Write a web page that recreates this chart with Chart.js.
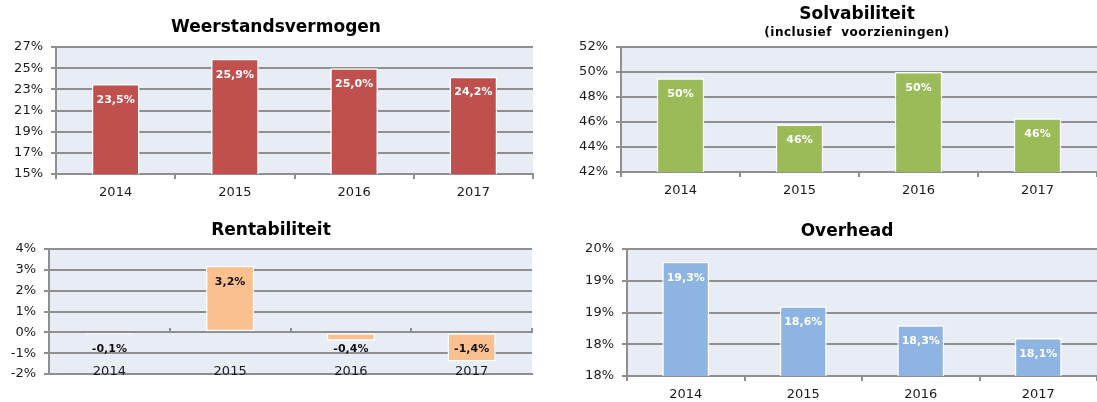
<!DOCTYPE html>
<html>
<head>
<meta charset="utf-8">
<script src="https://cdn.jsdelivr.net/npm/chart.js@4"></script>
<style>
  html, body { margin: 0; padding: 0; background: #fff; }
  body { width: 1097px; height: 402px; position: relative; overflow: hidden; }
  canvas { position: absolute; }
</style>
</head>
<body>
<canvas id="weerstand" width="545" height="200" style="left:0;top:0"></canvas>
<canvas id="solvab" width="547" height="200" style="left:550px;top:0"></canvas>
<canvas id="rentab" width="545" height="202" style="left:0;top:200px"></canvas>
<canvas id="overhead" width="547" height="202" style="left:550px;top:200px"></canvas>
<script>
const years = ["2014", "2015", "2016", "2017"];
const weerstandsvermogen = [23.5, 25.9, 25.0, 24.2];
const solvabiliteit = [49.5, 45.8, 50.0, 46.3];
const rentabiliteit = [-0.1, 3.2, -0.4, -1.4];
const overhead = [19.3, 18.6, 18.3, 18.1];

const GRID = "#8f8f8f";
const PLOT_BG = "#E8ECF4";

Chart.defaults.font.family = "'DejaVu Sans', Verdana, sans-serif";
Chart.defaults.color = "#1a1a1a";

function fmt(v, decimals) {
  return v.toFixed(decimals).replace(".", ",") + "%";
}

// light blue-grey plot area like the Excel original
const plotBg = {
  id: "plotBg",
  beforeDraw(chart) {
    const a = chart.chartArea;
    const ctx = chart.ctx;
    ctx.save();
    ctx.fillStyle = PLOT_BG;
    ctx.fillRect(a.left, a.top, a.right - a.left, a.bottom - a.top);
    ctx.restore();
  },
};

// titles are placed by hand, they are not centred on the canvas
const boxTitle = {
  id: "boxTitle",
  afterDraw(chart, args, opts) {
    const ctx = chart.ctx;
    ctx.save();
    ctx.fillStyle = "#000";
    ctx.textAlign = "center";
    ctx.textBaseline = "middle";
    ctx.font = "bold 17px 'DejaVu Sans'";
    ctx.fillText(opts.text, opts.x, opts.y);
    if (opts.sub) {
      ctx.font = "bold 12px 'DejaVu Sans'";
      ctx.letterSpacing = "0.5px";
      ctx.fillText(opts.sub, opts.x, opts.subY);
    }
    ctx.restore();
  },
};

// value labels just inside the end of each bar
const barLabels = {
  id: "barLabels",
  afterDatasetsDraw(chart, args, opts) {
    const ctx = chart.ctx;
    const values = chart.data.datasets[0].data;
    ctx.save();
    ctx.font = "bold 11px 'DejaVu Sans'";
    ctx.fillStyle = opts.color;
    ctx.textAlign = "center";
    ctx.textBaseline = "middle";
    chart.getDatasetMeta(0).data.forEach((bar, i) => {
      const v = values[i];
      const y = v >= 0 ? bar.y + 16 : Math.max(bar.y - 15, bar.base + 16);
      ctx.fillText(fmt(v, opts.decimals), bar.x, y);
    });
    ctx.restore();
  },
};

function makeChart(id, values, cfg) {
  const xAxis = {
    offset: true,
    grid: { offset: true, drawOnChartArea: false, color: GRID, lineWidth: 2, tickLength: 5 },
    border: { color: GRID, width: 2 },
    ticks: { font: { size: 13 }, padding: 6, maxRotation: 0 },
    afterFit: (s) => { s.height = cfg.xHeight; },
  };
  const scales = {
    x: xAxis,
    y: {
      min: cfg.min,
      max: cfg.max,
      grid: { color: GRID, lineWidth: 2, tickLength: 5 },
      border: { color: GRID, width: 2 },
      ticks: {
        stepSize: cfg.step,
        padding: 8,
        font: { size: 13 },
        callback: (v) => Math.round(v) + "%",
      },
      afterFit: (s) => { s.width = cfg.yWidth; },
    },
  };

  // Rentabiliteit: category labels sit low inside the plot, tick marks on the 0% line
  if (cfg.labelsLow) {
    xAxis.grid = { display: false };
    xAxis.ticks.mirror = true;
    xAxis.ticks.padding = -5;
    scales.x0 = {
      type: "category",
      axis: "x",
      position: { y: 0 },
      offset: true,
      ticks: { display: false },
      grid: { offset: true, drawOnChartArea: false, color: GRID, lineWidth: 2, tickLength: -5 },
      border: { color: GRID, width: 2 },
    };
  }

  return new Chart(document.getElementById(id), {
    type: "bar",
    data: {
      labels: years,
      datasets: [
        {
          data: values,
          backgroundColor: cfg.color,
          borderColor: "#fff",
          borderWidth: 1.5,
          borderSkipped: false,
          barPercentage: 0.4,
          categoryPercentage: 1,
        },
      ],
    },
    options: {
      responsive: false,
      animation: false,
      layout: { padding: { top: cfg.top, right: cfg.right, left: 0, bottom: 0 } },
      plugins: {
        legend: { display: false },
        tooltip: { enabled: false },
        boxTitle: cfg.title,
        barLabels: { color: cfg.labelColor, decimals: cfg.decimals },
      },
      scales: scales,
    },
    plugins: [plotBg, boxTitle, barLabels],
  });
}

makeChart("weerstand", weerstandsvermogen, {
  color: "#C0504D", labelColor: "#fff", decimals: 1,
  min: 15, max: 27, step: 2,
  top: 47, right: 12, yWidth: 56, xHeight: 26,
  title: { text: "Weerstandsvermogen", x: 276, y: 28 },
});

makeChart("solvab", solvabiliteit, {
  color: "#9BBB59", labelColor: "#fff", decimals: 0,
  min: 42, max: 52, step: 2,
  top: 47, right: 0, yWidth: 71, xHeight: 28,
  title: { text: "Solvabiliteit", x: 307, y: 15, sub: "(inclusief  voorzieningen)", subY: 33 },
});

makeChart("rentab", rentabiliteit, {
  color: "#FAC090", labelColor: "#111", decimals: 1,
  min: -2, max: 4, step: 1,
  top: 49, right: 13, yWidth: 49, xHeight: 28,
  labelsLow: true,
  title: { text: "Rentabiliteit", x: 271, y: 31 },
});

makeChart("overhead", overhead, {
  color: "#8EB4E3", labelColor: "#fff", decimals: 1,
  min: 17.5, max: 19.5, step: 0.5,
  top: 49, right: 0, yWidth: 77, xHeight: 26,
  title: { text: "Overhead", x: 297, y: 32 },
});
</script>
</body>
</html>
